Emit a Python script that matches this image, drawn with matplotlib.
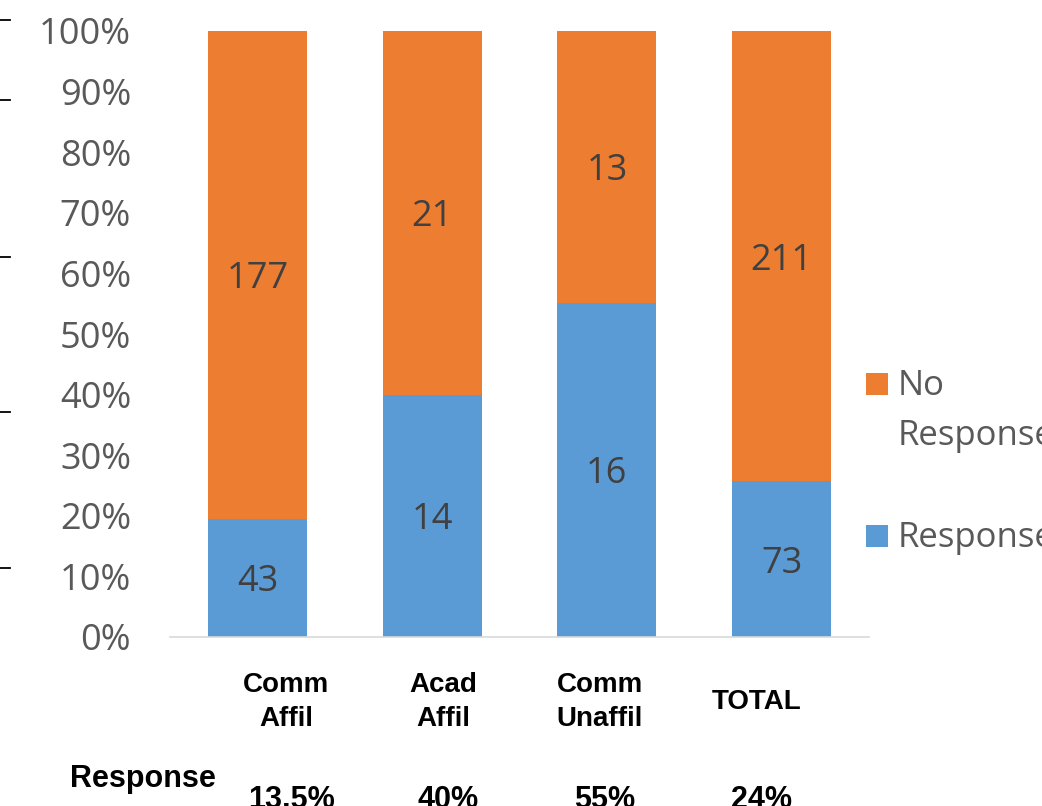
import numpy as np
import matplotlib
matplotlib.use("Agg")
import matplotlib.pyplot as plt
from matplotlib.lines import Line2D
from matplotlib.patches import Rectangle

categories = ["Comm\nAffil", "Acad\nAffil", "Comm\nUnaffil", "TOTAL"]
responded = [43, 14, 16, 73]
no_response = [177, 21, 13, 211]
response_rates = ["13.5%", "40%", "55%", "24%"]

ORANGE = "#ED7D31"
BLUE = "#5B9BD5"
W, H = 1042, 806

plt.rcParams["font.family"] = ["Open Sans", "DejaVu Sans"]
label_font = ["Liberation Sans Narrow", "Liberation Sans", "DejaVu Sans"]

fig = plt.figure(figsize=(W / 100, H / 100), dpi=100)
ax = fig.add_axes([170 / W, 1 - 637 / H, (869 - 170) / W, (637 - 31) / H])

resp = np.array(responded, dtype=float)
nores = np.array(no_response, dtype=float)
total = resp + nores
resp_share = resp / total
nores_share = nores / total

x = np.arange(len(categories))
bw = 99 / 175
b1 = ax.bar(x, resp_share, bw, color=BLUE)
b2 = ax.bar(x, nores_share, bw, bottom=resp_share, color=ORANGE)

for i in range(len(x)):
    ax.text(x[i], resp_share[i] / 2, f"{responded[i]}", ha="center",
            va="center_baseline", fontsize=26, color="#404040")
    ax.text(x[i], resp_share[i] + nores_share[i] / 2, f"{no_response[i]}",
            ha="center", va="center_baseline", fontsize=26, color="#404040")

ax.set_xlim(-0.5, len(x) - 0.5)
ax.set_ylim(0, 1)
ax.set_yticks(np.linspace(0, 1, 11))
ax.set_yticklabels([f"{v}%" for v in range(0, 101, 10)])
ax.tick_params(axis="y", length=0, pad=28, labelsize=26, labelcolor="#595959")
ax.set_xticks([])
for side in ["left", "right", "top"]:
    ax.spines[side].set_visible(False)
ax.spines["bottom"].set_color("#D9D9D9")
ax.spines["bottom"].set_linewidth(1.2)

# legend: square swatch beside the first line of each label
legend_items = [(["No", "Response"], ORANGE, 384), (["Response"], BLUE, 536)]
for lines, color, yc in legend_items:
    fig.add_artist(Rectangle((866 / W, 1 - (yc + 11) / H), 22 / W, 22 / H,
                             facecolor=color, edgecolor="none"))
    for k, line in enumerate(lines):
        fig.text(898 / W, 1 - (yc + 11 + 50 * k) / H, line, ha="left", va="baseline",
                 fontsize=25, color="#595959")

# category and response-rate rows underneath the plot
for i, (lab, rate) in enumerate(zip(categories, response_rates)):
    fig.text((286 + 157 * i) / W, 1 - 702 / H, lab,
             ha="center", va="center", fontsize=20, fontweight="bold",
             family=label_font, linespacing=1.45)
    fig.text((292 + 156.5 * i) / W, 1 - 800 / H, rate, ha="center", va="center",
             fontsize=22, fontweight="bold", family=label_font)
fig.text(143 / W, 1 - 779 / H, "Response", ha="center", va="center",
         fontsize=22, fontweight="bold", family=label_font)

# short marks along the left edge
for yy in [20, 100, 257, 412, 568]:
    fig.add_artist(Line2D([0, 10 / W], [1 - yy / H, 1 - yy / H], color="black", lw=1.3))

fig.savefig("out.png", dpi=100)
